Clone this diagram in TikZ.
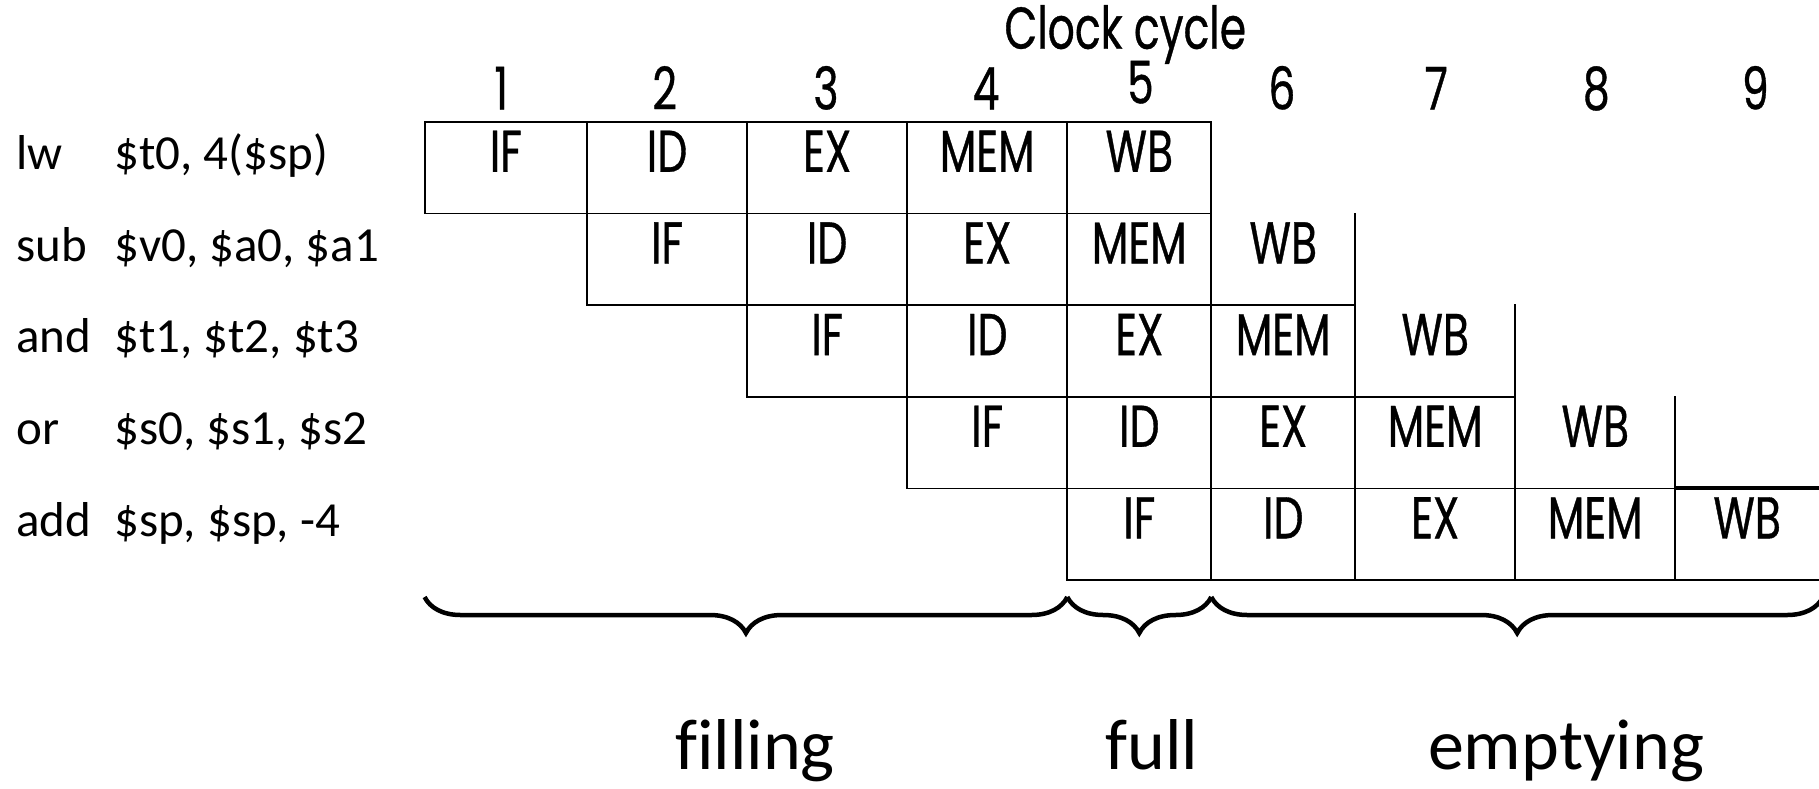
\documentclass[tikz,border=0pt]{standalone}
\usepackage{fontspec}
\setmainfont[Ligatures=NoCommon]{Carlito}
\newfontfamily\stagefont[FakeStretch=0.72,FakeBold=0.6]{Poppins}
\usetikzlibrary{decorations.pathreplacing}
\begin{document}
\begin{tikzpicture}[x=1pt,y=-1pt,
  grid/.style={line width=1.8pt, black, line cap=rect},
  stage/.style={font=\stagefont\fontsize{59}{62}\selectfont, anchor=base, inner sep=0pt},
  instr/.style={font=\fontsize{49}{53}\selectfont, anchor=base west, inner sep=0pt},
  brc/.style={decorate, decoration={brace, mirror, amplitude=36pt}, line width=4.5pt},
  phase/.style={font=\fontsize{72}{76}\selectfont, anchor=base, inner sep=0pt}]
\useasboundingbox (0,0) rectangle (1819,788);
\def\xs{{424.6,587.0,747.1,907.2,1067.3,1211.3,1355.2,1515.2,1675.3,1819}}
\def\ys{{121.8,213.5,305.1,396.8,488.4,580.1}}
% title and cycle numbers
\node[stage] (title) at (1125.3,48.7) {Clock cycle};
\foreach \n/\x/\y in {1/501.2/109.5,2/664.7/109.5,3/826/109.5,4/986.1/109.5,5/1140.4/103.5,6/1281.9/109.5,7/1436.2/109.5,8/1596.3/109.5,9/1755.3/109.5}{
  \node[stage] (n\n) at (\x,\y) {\n};
}
% instructions
\foreach \r/\op/\args in {0/lw/{\$t0, 4(\$sp)},1/sub/{\$v0, \$a0, \$a1},2/and/{\$t1, \$t2, \$t3},3/or/{\$s0, \$s1, \$s2},4/add/{\$sp, \$sp, -4}}{
  \pgfmathsetmacro\yb{\ys[\r]+47.6}
  \node[instr] (op\r) at (16,\yb) {\op};
  \node[instr] (arg\r) at (114,\yb) {\args};
}
% stage labels
\foreach \r in {0,...,4}{
  \foreach \s/\lab in {0/IF,1/ID,2/EX,3/MEM,4/WB}{
    \pgfmathtruncatemacro\c{\r+\s}
    \pgfmathsetmacro\xl{\xs[\c]}
    \pgfmathtruncatemacro\cc{\c+1}
    \pgfmathsetmacro\xr{\xs[\cc]}
    \pgfmathsetmacro\yt{\ys[\r]+50}
    \pgfmathsetmacro\xm{(\xl+\xr)/2}
    \node[stage] (s\r\s) at (\xm,\yt) {\lab};
  }
}
% grid lines
\foreach \r in {0,...,4}{
  \pgfmathsetmacro\yt{\ys[\r]}
  \pgfmathtruncatemacro\rr{\r+1}
  \pgfmathsetmacro\yb{\ys[\rr]}
  \foreach \k in {0,...,5}{
    \pgfmathtruncatemacro\c{\r+\k}
    \ifnum\c<9
      \pgfmathsetmacro\xv{\xs[\c]}
      \draw[grid] (\xv,\yt) -- (\xv,\yb);
    \fi
  }
  \pgfmathsetmacro\xl{\xs[\r]}
  \pgfmathtruncatemacro\ce{\r+5}
  \pgfmathsetmacro\xr{\xs[\ce]}
  \draw[grid] (\xl,\yb) -- (\xr,\yb);
}
\draw[grid] (424.6,121.8) -- (1211.3,121.8);
\draw[line width=4pt] (1675.3,488.4) -- (1819,488.4);
% braces
\coordinate (b0) at (424.6,597);
\coordinate (b1) at (1067.3,597);
\coordinate (b2) at (1211.3,597);
\coordinate (b3) at (1823,597);
\draw[brc] (b0) -- (b1);
\draw[brc] (b1) -- (b2);
\draw[brc] (b2) -- (b3);
% phase labels
\node[phase] (filling) at (755,769) {filling};
\node[phase] (full) at (1152,769) {full};
\node[phase] (emptying) at (1566,769) {emptying};
\end{tikzpicture}
\end{document}
